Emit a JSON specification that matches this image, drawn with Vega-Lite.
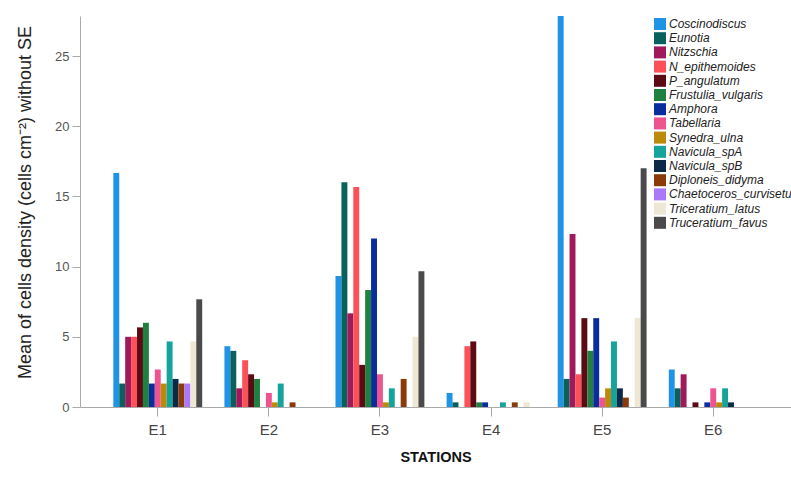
{
  "$schema": "https://vega.github.io/schema/vega-lite/v6.json",
  "width": 711,
  "height": 391,
  "autosize": {"type": "none"},
  "padding": {"left": 80, "top": 16, "right": 0, "bottom": 70},
  "background": "#ffffff",
  "config": {"view": {"stroke": null}, "font": "Liberation Sans"},
  "data": {"values": [
    {"station":"E1","species":"Coscinodiscus","value":16.67},
    {"station":"E1","species":"Eunotia","value":1.67},
    {"station":"E1","species":"Nitzschia","value":5},
    {"station":"E1","species":"N_epithemoides","value":5},
    {"station":"E1","species":"P_angulatum","value":5.67},
    {"station":"E1","species":"Frustulia_vulgaris","value":6},
    {"station":"E1","species":"Amphora","value":1.67},
    {"station":"E1","species":"Tabellaria","value":2.67},
    {"station":"E1","species":"Synedra_ulna","value":1.67},
    {"station":"E1","species":"Navicula_spA","value":4.67},
    {"station":"E1","species":"Navicula_spB","value":2},
    {"station":"E1","species":"Diploneis_didyma","value":1.67},
    {"station":"E1","species":"Chaetoceros_curvisetus","value":1.67},
    {"station":"E1","species":"Triceratium_latus","value":4.67},
    {"station":"E1","species":"Truceratium_favus","value":7.67},
    {"station":"E2","species":"Coscinodiscus","value":4.33},
    {"station":"E2","species":"Eunotia","value":4},
    {"station":"E2","species":"Nitzschia","value":1.33},
    {"station":"E2","species":"N_epithemoides","value":3.33},
    {"station":"E2","species":"P_angulatum","value":2.33},
    {"station":"E2","species":"Frustulia_vulgaris","value":2},
    {"station":"E2","species":"Amphora","value":0},
    {"station":"E2","species":"Tabellaria","value":1},
    {"station":"E2","species":"Synedra_ulna","value":0.33},
    {"station":"E2","species":"Navicula_spA","value":1.67},
    {"station":"E2","species":"Navicula_spB","value":0},
    {"station":"E2","species":"Diploneis_didyma","value":0.33},
    {"station":"E2","species":"Chaetoceros_curvisetus","value":0},
    {"station":"E2","species":"Triceratium_latus","value":0},
    {"station":"E2","species":"Truceratium_favus","value":0},
    {"station":"E3","species":"Coscinodiscus","value":9.33},
    {"station":"E3","species":"Eunotia","value":16},
    {"station":"E3","species":"Nitzschia","value":6.67},
    {"station":"E3","species":"N_epithemoides","value":15.67},
    {"station":"E3","species":"P_angulatum","value":3},
    {"station":"E3","species":"Frustulia_vulgaris","value":8.33},
    {"station":"E3","species":"Amphora","value":12},
    {"station":"E3","species":"Tabellaria","value":2.33},
    {"station":"E3","species":"Synedra_ulna","value":0.33},
    {"station":"E3","species":"Navicula_spA","value":1.33},
    {"station":"E3","species":"Navicula_spB","value":0},
    {"station":"E3","species":"Diploneis_didyma","value":2},
    {"station":"E3","species":"Chaetoceros_curvisetus","value":0},
    {"station":"E3","species":"Triceratium_latus","value":5},
    {"station":"E3","species":"Truceratium_favus","value":9.67},
    {"station":"E4","species":"Coscinodiscus","value":1},
    {"station":"E4","species":"Eunotia","value":0.33},
    {"station":"E4","species":"Nitzschia","value":0},
    {"station":"E4","species":"N_epithemoides","value":4.33},
    {"station":"E4","species":"P_angulatum","value":4.67},
    {"station":"E4","species":"Frustulia_vulgaris","value":0.33},
    {"station":"E4","species":"Amphora","value":0.33},
    {"station":"E4","species":"Tabellaria","value":0},
    {"station":"E4","species":"Synedra_ulna","value":0},
    {"station":"E4","species":"Navicula_spA","value":0.33},
    {"station":"E4","species":"Navicula_spB","value":0},
    {"station":"E4","species":"Diploneis_didyma","value":0.33},
    {"station":"E4","species":"Chaetoceros_curvisetus","value":0},
    {"station":"E4","species":"Triceratium_latus","value":0.33},
    {"station":"E4","species":"Truceratium_favus","value":0},
    {"station":"E5","species":"Coscinodiscus","value":27.85},
    {"station":"E5","species":"Eunotia","value":2},
    {"station":"E5","species":"Nitzschia","value":12.33},
    {"station":"E5","species":"N_epithemoides","value":2.33},
    {"station":"E5","species":"P_angulatum","value":6.33},
    {"station":"E5","species":"Frustulia_vulgaris","value":4},
    {"station":"E5","species":"Amphora","value":6.33},
    {"station":"E5","species":"Tabellaria","value":0.67},
    {"station":"E5","species":"Synedra_ulna","value":1.33},
    {"station":"E5","species":"Navicula_spA","value":4.67},
    {"station":"E5","species":"Navicula_spB","value":1.33},
    {"station":"E5","species":"Diploneis_didyma","value":0.67},
    {"station":"E5","species":"Chaetoceros_curvisetus","value":0},
    {"station":"E5","species":"Triceratium_latus","value":6.33},
    {"station":"E5","species":"Truceratium_favus","value":17},
    {"station":"E6","species":"Coscinodiscus","value":2.67},
    {"station":"E6","species":"Eunotia","value":1.33},
    {"station":"E6","species":"Nitzschia","value":2.33},
    {"station":"E6","species":"N_epithemoides","value":0},
    {"station":"E6","species":"P_angulatum","value":0.33},
    {"station":"E6","species":"Frustulia_vulgaris","value":0},
    {"station":"E6","species":"Amphora","value":0.33},
    {"station":"E6","species":"Tabellaria","value":1.33},
    {"station":"E6","species":"Synedra_ulna","value":0.33},
    {"station":"E6","species":"Navicula_spA","value":1.33},
    {"station":"E6","species":"Navicula_spB","value":0.33},
    {"station":"E6","species":"Diploneis_didyma","value":0},
    {"station":"E6","species":"Chaetoceros_curvisetus","value":0},
    {"station":"E6","species":"Triceratium_latus","value":0},
    {"station":"E6","species":"Truceratium_favus","value":0}
  ]},
  "mark": {"type": "bar"},
  "encoding": {
    "x": {
      "field": "station", "type": "nominal",
      "scale": {"paddingInner": 0.2, "paddingOuter": 0.3},
      "axis": {
        "title": "STATIONS", "titleFontWeight": "bold", "titleFontSize": 14.5, "titleColor": "#111111",
        "titlePadding": 13,
        "labelAngle": 0, "labelFontSize": 15, "labelColor": "#444444", "labelPadding": 6,
        "tickSize": 9, "tickColor": "#aaaaaa", "domainColor": "#aaaaaa"
      }
    },
    "xOffset": {
      "field": "species", "type": "nominal",
      "scale": {"domain": ["Coscinodiscus","Eunotia","Nitzschia","N_epithemoides","P_angulatum","Frustulia_vulgaris","Amphora","Tabellaria","Synedra_ulna","Navicula_spA","Navicula_spB","Diploneis_didyma","Chaetoceros_curvisetus","Triceratium_latus","Truceratium_favus"], "paddingInner": 0, "paddingOuter": 0}
    },
    "y": {
      "field": "value", "type": "quantitative",
      "scale": {"domain": [0, 27.85], "nice": false},
      "axis": {
        "title": "Mean of cells density (cells cm⁻²) without SE",
        "titleFontSize": 18, "titleFontWeight": "normal", "titleColor": "#222222",
        "titleX": -55, "titleY": 186, "titleAlign": "center", "titleBaseline": "middle", "titleAngle": -90,
        "values": [0, 5, 10, 15, 20, 25], "grid": false,
        "labelFontSize": 13, "labelColor": "#555555", "labelPadding": 3,
        "tickSize": 8, "tickColor": "#aaaaaa", "domainColor": "#aaaaaa"
      }
    },
    "color": {
      "field": "species", "type": "nominal",
      "scale": {
        "domain": ["Coscinodiscus","Eunotia","Nitzschia","N_epithemoides","P_angulatum","Frustulia_vulgaris","Amphora","Tabellaria","Synedra_ulna","Navicula_spA","Navicula_spB","Diploneis_didyma","Chaetoceros_curvisetus","Triceratium_latus","Truceratium_favus"],
        "range": ["#1f93e6","#08615c","#a0195a","#fc5158","#5c0a14","#1f8040","#0a2d9e","#ee5590","#ba8a08","#15a39b","#0c2a48","#8b3a0a","#aa78f8","#ede7d3","#4a4a4a"]
      },
      "legend": {
        "title": null, "orient": "none", "legendX": 574, "legendY": 2,
        "symbolType": "square", "symbolSize": 144, "symbolStrokeWidth": 0,
        "labelFontSize": 12, "labelFontStyle": "italic", "labelColor": "#222222",
        "rowPadding": 2.2, "labelOffset": 3, "labelLimit": 200, "padding": 0
      }
    }
  }
}
